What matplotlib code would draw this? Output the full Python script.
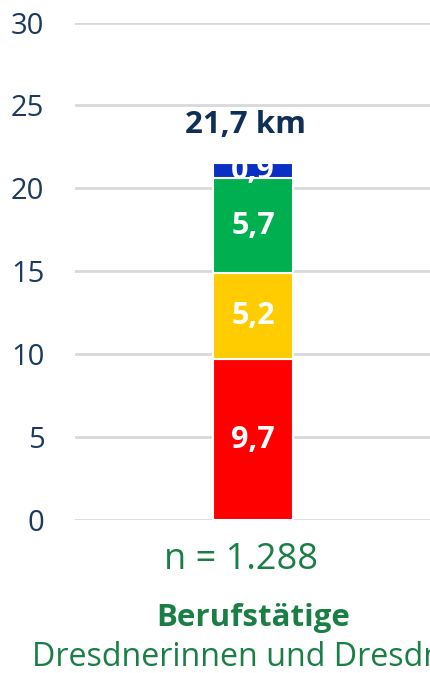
import matplotlib
matplotlib.use("Agg")
import matplotlib.pyplot as plt

categories = ["Berufstätige"]
segment_values = [9.7, 5.2, 5.7, 0.9]
segment_labels = ["9,7", "5,2", "5,7", "0,9"]
segment_colors = ["#ff0000", "#ffcc00", "#00b050", "#0a2fc4"]
total_label = "21,7 km"
n_label = "n = 1.288"
group_title = "Berufstätige"
group_sub = "Dresdnerinnen und Dresdner"
yticks = [0, 5, 10, 15, 20, 25, 30]

plt.rcParams['font.family'] = ['Open Sans', 'DejaVu Sans']

W, H = 431, 673
fig = plt.figure(figsize=(W/100, H/100), dpi=100)
ax = fig.add_axes([75/W, (H-520)/H, (W-75)/W, (520-22.5)/H])

x = 0.0
bottom = 0.0
for v, lab, c in zip(segment_values, segment_labels, segment_colors):
    ax.bar(x, v, bottom=bottom, width=0.222, color=c, edgecolor="white", linewidth=1.5, zorder=3)
    ax.text(x, bottom + v/2, lab, ha="center", va="center", color="white",
            fontsize=22, fontweight="bold", zorder=4)
    bottom += v

ax.text(x - 0.02, bottom + 2.3, total_label, ha="center", va="center", color="#0f2f57",
        fontsize=22.5, fontweight="bold", zorder=4)

ax.set_xlim(-0.5, 0.5)
ax.set_ylim(0, 30)
ax.set_yticks(yticks)
ax.set_yticklabels([str(t) for t in yticks])
ax.tick_params(axis="y", length=0, pad=22, labelsize=21, labelcolor="#1b3a5c")
ax.set_xticks([])
for s in ax.spines.values():
    s.set_visible(False)
ax.yaxis.grid(True, color="#d9d9d9", linewidth=2, zorder=0)
ax.set_axisbelow(True)

green = "#1a7f45"
fig.text(241/W, 1 - 560/H, n_label, ha="center", va="center", color=green, fontsize=26)
fig.text(253/W, 1 - 618/H, group_title, ha="center", va="center", color=green,
         fontsize=22.5, fontweight="bold")
fig.text(253/W, 1 - 657/H, group_sub, ha="center", va="center", color=green, fontsize=23.2)

fig.savefig("out.png", dpi=100)
